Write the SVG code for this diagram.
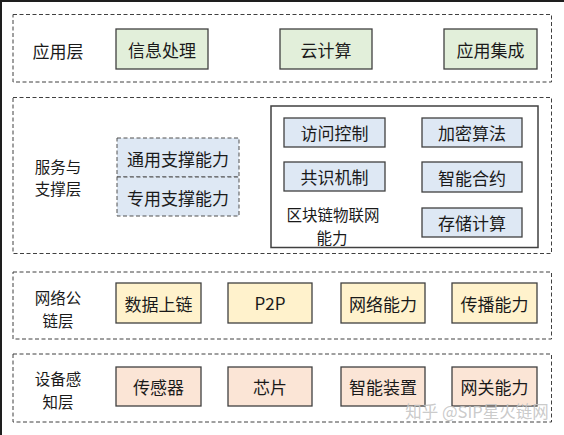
<svg xmlns="http://www.w3.org/2000/svg" width="564" height="435" viewBox="0 0 564 435">
<style>
text{font-family:"Noto Sans CJK SC","Microsoft YaHei",sans-serif;font-size:17px;fill:#1a1a1a;text-anchor:middle;dominant-baseline:central}
.lbl{font-size:15.5px}
.layer{fill:none;stroke:#404040;stroke-width:1;stroke-dasharray:4 2.5}
.box{stroke:#404040;stroke-width:1.3}
.g{fill:#e2efda}.b{fill:#dee8f4}.y{fill:#fff2cc}.p{fill:#fbe5d6}
.dbox{fill:#dee8f4;stroke:#505050;stroke-width:1;stroke-dasharray:4 2.5}
.wm{fill:#c4c4c4;font-size:16.5px;fill-opacity:0.9}
</style>
<rect x="0" y="0" width="564" height="435" fill="#ffffff"/>
<path d="M1,435 V1 H564" fill="none" stroke="#1e1e1e" stroke-width="2"/>
<g id="layer-app">
<rect class="layer" x="13" y="14.5" width="538.5" height="67.5"/>
<text x="58" y="50">应用层</text>
</g>
<g id="node-xinxichuli"><rect class="box g" x="116" y="29" width="92" height="40"/><text x="162" y="49">信息处理</text></g>
<g id="node-yunjisuan"><rect class="box g" x="280" y="29" width="92" height="40"/><text x="326" y="49">云计算</text></g>
<g id="node-yingyongjicheng"><rect class="box g" x="444" y="29" width="93" height="40"/><text x="490.5" y="49">应用集成</text></g>

<g id="layer-service">
<rect class="layer" x="13" y="97.5" width="538.5" height="156"/>
<text class="lbl" x="58" y="165.7">服务与</text>
<text class="lbl" x="58" y="188.4">支撑层</text>
</g>
<g id="node-tongyong"><rect class="dbox" x="117" y="138" width="122" height="39"/><text x="178" y="158">通用支撑能力</text></g>
<g id="node-zhuanyong"><rect class="dbox" x="117" y="177" width="122" height="39"/><text x="178" y="197">专用支撑能力</text></g>
<g id="group-blockchain">
<rect x="271" y="106" width="267" height="141.5" fill="none" stroke="#404040" stroke-width="1.5"/>
<text class="lbl" x="333" y="214.3">区块链物联网</text>
<text class="lbl" x="332" y="237">能力</text>
</g>
<g id="node-fangwen"><rect class="box b" x="284" y="118" width="101" height="29"/><text x="334.5" y="132.5">访问控制</text></g>
<g id="node-jiami"><rect class="box b" x="422" y="118" width="100" height="29"/><text x="472" y="132.5">加密算法</text></g>
<g id="node-gongshi"><rect class="box b" x="284" y="162" width="101" height="29"/><text x="334.5" y="176.5">共识机制</text></g>
<g id="node-zhineng"><rect class="box b" x="422" y="162" width="100" height="30"/><text x="472" y="177">智能合约</text></g>
<g id="node-cunchu"><rect class="box b" x="422" y="208" width="100" height="29"/><text x="472" y="222.5">存储计算</text></g>

<g id="layer-network">
<rect class="layer" x="13" y="272" width="538.5" height="67"/>
<text class="lbl" x="58" y="297.2">网络公</text>
<text class="lbl" x="58" y="319.9">链层</text>
</g>
<g id="node-shuju"><rect class="box y" x="116" y="283" width="85" height="40"/><text x="158.5" y="303">数据上链</text></g>
<g id="node-p2p"><rect class="box y" x="228" y="283" width="84" height="40"/><text x="270" y="302">P2P</text></g>
<g id="node-wangluo"><rect class="box y" x="341" y="283" width="84" height="40"/><text x="383" y="303">网络能力</text></g>
<g id="node-chuanbo"><rect class="box y" x="452" y="283" width="85" height="40"/><text x="494.5" y="303">传播能力</text></g>

<g id="layer-device">
<rect class="layer" x="13" y="354" width="538.5" height="68"/>
<text class="lbl" x="58" y="378.2">设备感</text>
<text class="lbl" x="58" y="400.9">知层</text>
</g>
<g id="node-chuanganqi"><rect class="box p" x="116" y="367" width="85" height="39"/><text x="158.5" y="386.5">传感器</text></g>
<g id="node-xinpian"><rect class="box p" x="228" y="367" width="84" height="39"/><text x="270" y="386.5">芯片</text></g>
<g id="node-zhuangzhi"><rect class="box p" x="341" y="367" width="84" height="39"/><text x="383" y="386.5">智能装置</text></g>
<g id="node-wangguan"><rect class="box p" x="452" y="367" width="85" height="39"/><text x="494.5" y="386.5">网关能力</text></g>

<g id="connectors"></g>
<text class="wm" x="477" y="411">知乎 @SIP星火链网</text>
</svg>
